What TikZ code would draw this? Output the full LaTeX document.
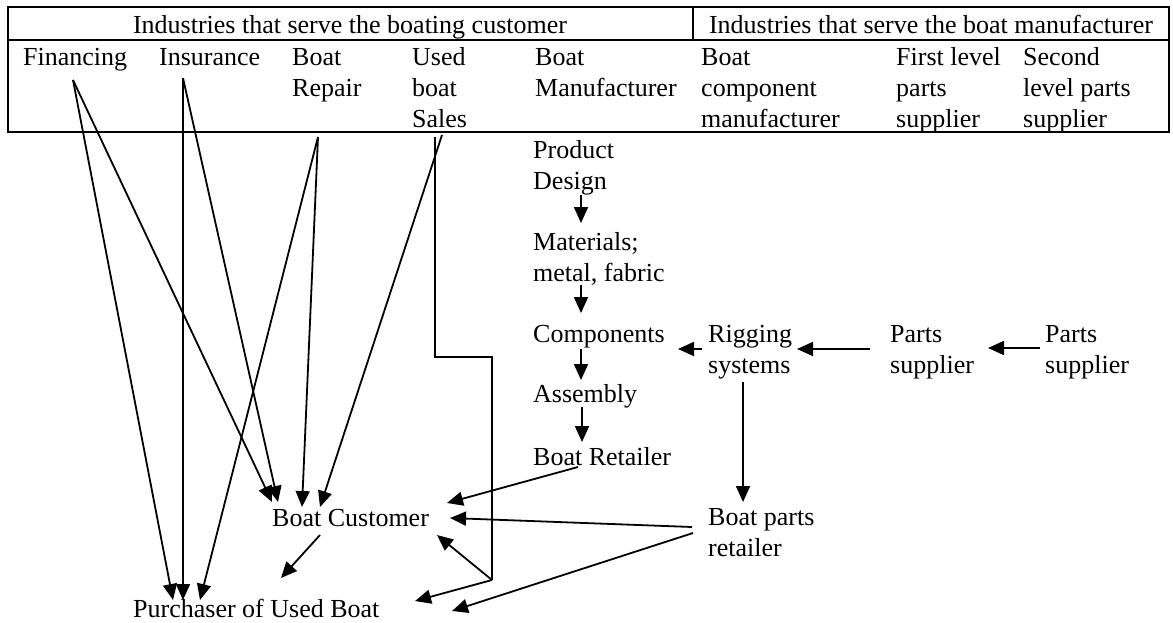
\documentclass[tikz,border=0pt]{standalone}
\usepackage{fontspec}
\setmainfont{Liberation Serif}
\usetikzlibrary{arrows.meta}
\newcommand\fl{\rule{0pt}{20pt}}
\begin{document}
\begin{tikzpicture}[x=1pt,y=-1pt,
  txt/.style={anchor=north west, inner sep=0pt, align=left, font=\fontsize{26}{31}\selectfont},
  hdr/.style={txt, anchor=north, align=center},
  arr/.style={line width=1.8pt, -{Triangle[length=16pt,width=14pt]}},
  ln/.style={line width=1.8pt},
  tbl/.style={line width=1.6pt}]
\useasboundingbox (0,0) rectangle (1173,622);
% table
\draw[tbl] (8,7) rectangle (1169,132);
\draw[tbl] (8,40) -- (1169,40);
\draw[tbl] (693,7) -- (693,40);
\node[hdr] (hA) at (350,13) {\fl Industries that serve the boating customer};
\node[hdr] (hB) at (931,13) {\fl Industries that serve the boat manufacturer};
% columns
\node[txt] (fin) at (23,45) {\fl Financing};
\node[txt] (ins) at (159,45) {\fl Insurance};
\node[txt] (rep) at (292,45) {\fl Boat\\Repair};
\node[txt] (used) at (412,45) {\fl Used\\boat\\Sales};
\node[txt] (mfr) at (535,45) {\fl Boat\\Manufacturer};
\node[txt] (bcm) at (701,45) {\fl Boat\\component\\manufacturer};
\node[txt] (flp) at (896,45) {\fl First level\\parts\\supplier};
\node[txt] (slp) at (1023,45) {\fl Second\\level parts\\supplier};
% chain
\node[txt] (prod) at (533,138) {\fl Product\\Design};
\node[txt] (mat) at (533,230) {\fl Materials;\\metal, fabric};
\node[txt] (compo) at (533,322) {\fl Components};
\node[txt] (rig) at (708,322) {\fl Rigging\\systems};
\node[txt] (psA) at (890,322) {\fl Parts\\supplier};
\node[txt] (psB) at (1045,322) {\fl Parts\\supplier};
\node[txt] (asm) at (533,382) {\fl Assembly};
\node[txt] (bret) at (533,445) {\fl Boat Retailer};
\node[txt] (bpr) at (708,505) {\fl Boat parts\\retailer};
\node[txt] (cust) at (272,506) {\fl Boat Customer};
\node[txt] (pur) at (133,597) {\fl Purchaser of Used Boat};
% connector points
\coordinate (finS) at (73,80);
\coordinate (insS) at (183,78);
\coordinate (repS) at (318,137);
\coordinate (usedS) at (442,135);
\coordinate (usedL) at (435,137);
\coordinate (usedK1) at (435,357);
\coordinate (usedK2) at (492,357);
\coordinate (usedJ) at (492,580);
\coordinate (purIn1) at (173,600);
\coordinate (purIn2) at (183,600);
\coordinate (purIn3) at (200,600);
\coordinate (custIn1) at (272,502);
\coordinate (custIn2) at (278,502);
\coordinate (custIn3) at (302,507);
\coordinate (custIn4) at (320,507);
\coordinate (custOut) at (320,535);
\coordinate (purIn4) at (281,578);
\coordinate (custIn5) at (437,535);
\coordinate (purIn5) at (415,601);
\coordinate (custIn6) at (447,503);
\coordinate (custIn7) at (450,518);
\coordinate (purIn6) at (452,611);
\coordinate (bretOut) at (578,467);
\coordinate (bprOut1) at (692,527);
\coordinate (bprOut2) at (693,533);
\coordinate (prodOut) at (581,195);
\coordinate (matIn) at (581,223);
\coordinate (matOut) at (581,285);
\coordinate (compoIn) at (581,313);
\coordinate (compoOut) at (581,349);
\coordinate (asmIn) at (581,380);
\coordinate (asmOut) at (582,407);
\coordinate (bretIn) at (582,442);
\coordinate (rigOut) at (702,349);
\coordinate (compoInR) at (678,349);
\coordinate (psAOut) at (870,349);
\coordinate (rigIn) at (797,349);
\coordinate (psBOut) at (1040,348);
\coordinate (psAIn) at (988,348);
\coordinate (rigDown) at (743,382);
\coordinate (bprIn) at (743,502);
% left connectors
\draw[arr] (finS) -- (purIn1);
\draw[arr] (finS) -- (custIn1);
\draw[arr] (insS) -- (purIn2);
\draw[arr] (insS) -- (custIn2);
\draw[arr] (repS) -- (custIn3);
\draw[arr] (repS) -- (purIn3);
\draw[arr] (usedS) -- (custIn4);
\draw[ln] (usedL) -- (usedK1) -- (usedK2) -- (usedJ);
\draw[arr] (usedJ) -- (custIn5);
\draw[arr] (usedJ) -- (purIn5);
\draw[arr] (custOut) -- (purIn4);
% manufacturer chain
\draw[arr] (prodOut) -- (matIn);
\draw[arr] (matOut) -- (compoIn);
\draw[arr] (compoOut) -- (asmIn);
\draw[arr] (asmOut) -- (bretIn);
\draw[arr] (rigOut) -- (compoInR);
\draw[arr] (psAOut) -- (rigIn);
\draw[arr] (psBOut) -- (psAIn);
\draw[arr] (rigDown) -- (bprIn);
\draw[arr] (bretOut) -- (custIn6);
\draw[arr] (bprOut1) -- (custIn7);
\draw[arr] (bprOut2) -- (purIn6);
\end{tikzpicture}
\end{document}
